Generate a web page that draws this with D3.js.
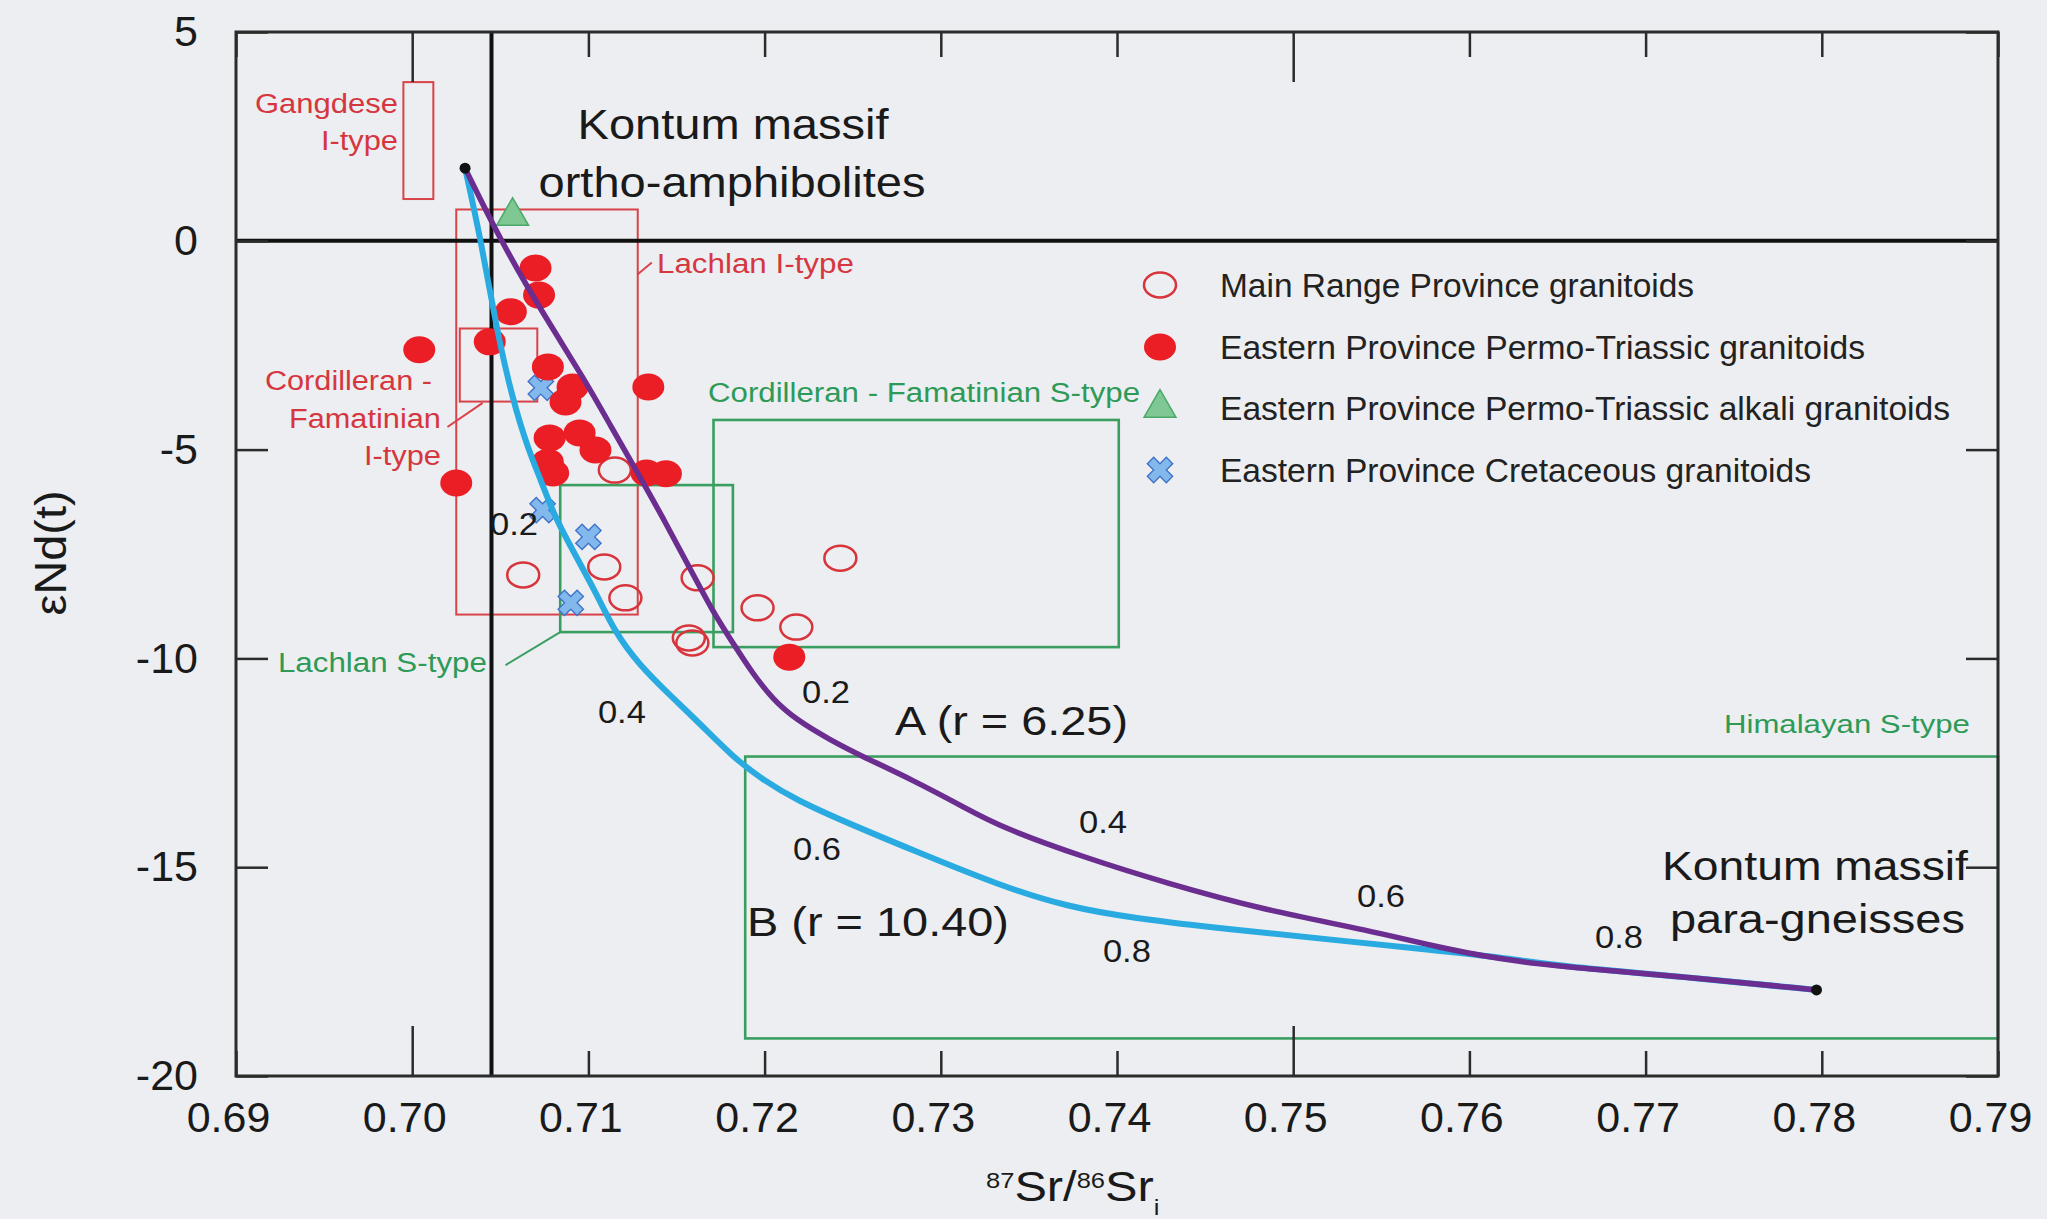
<!DOCTYPE html>
<html>
<head>
<meta charset="utf-8">
<script src="https://cdn.jsdelivr.net/npm/d3@7"></script>
<style>
  html, body { margin: 0; padding: 0; background: #eceef1; }
  svg { display: block; font-family: "Liberation Sans", Arial, Helvetica, sans-serif; }
</style>
</head>
<body>
<svg id="chart" width="2047" height="1219"></svg>
<script>
// ---------- axis ticks ----------
const xTicks = [0.69, 0.70, 0.71, 0.72, 0.73, 0.74, 0.75, 0.76, 0.77, 0.78, 0.79];
const xTickLabels = ["0.69", "0.70", "0.71", "0.72", "0.73", "0.74", "0.75", "0.76", "0.77", "0.78", "0.79"];
const xMajor = [0.70, 0.75];
const yTicks = [5, 0, -5, -10, -15, -20];
const yTickLabels = ["5", "0", "-5", "-10", "-15", "-20"];

// ---------- samples: [87Sr/86Sr(i), eNd(t)] ----------
const mainRangeGranitoids = [
  [0.7063, -8.00], [0.7109, -7.81], [0.7121, -8.55], [0.7115, -5.49], [0.7162, -8.07],
  [0.7157, -9.51], [0.7159, -9.63], [0.7196, -8.79], [0.7218, -9.25], [0.7243, -7.60]
];
const easternPermoTriassic = [
  [0.7070, -0.65], [0.7072, -1.30], [0.7056, -1.70], [0.7044, -2.42], [0.7004, -2.61],
  [0.7077, -3.02], [0.7091, -3.50], [0.7087, -3.86], [0.7134, -3.50], [0.7025, -5.80],
  [0.7078, -4.72], [0.7095, -4.60], [0.7104, -5.01], [0.7077, -5.30], [0.7080, -5.56],
  [0.7133, -5.56], [0.7144, -5.58], [0.7214, -9.97]
];
const easternAlkali = [[0.7057, 0.59]];
const easternCretaceous = [[0.7073, -3.52], [0.7074, -6.45], [0.7100, -7.09], [0.7090, -8.67]];

// ---------- reference fields: [x0, x1, y0, y1] ----------
const fieldNames = ["Gangdese I-type", "Lachlan I-type", "Cordilleran - Famatinian I-type",
                    "Lachlan S-type", "Cordilleran - Famatinian S-type", "Himalayan S-type"];
const fieldBounds = [
  [0.6995, 0.7012, 1.0, 3.8],
  [0.7025, 0.7128, -8.95, 0.75],
  [0.7027, 0.7071, -3.85, -2.10],
  [0.7084, 0.7182, -9.37, -5.85],
  [0.7171, 0.7401, -9.73, -4.29],
  [0.7189, 0.7900, -19.10, -12.35]
];
const fieldKind = ["I", "I", "I", "S", "S", "S"];

// ---------- mixing curves between the two end-members ----------
const endMembers = [[0.7030, 1.74], [0.7797, -17.94]];
const curveA = [
  [0.7030, 1.74], [0.7050, 0.02], [0.7074, -1.73], [0.7098, -3.33], [0.7113, -4.46],
  [0.7128, -5.56], [0.7142, -6.61], [0.7155, -7.64], [0.7171, -8.91], [0.7182, -9.63],
  [0.7193, -10.35], [0.7205, -11.00], [0.7218, -11.47], [0.7237, -11.95], [0.7256, -12.36],
  [0.7284, -12.91], [0.7313, -13.56], [0.7334, -14.04], [0.7381, -14.76], [0.7428, -15.38],
  [0.7484, -16.03], [0.7542, -16.50], [0.7588, -16.98], [0.7627, -17.27], [0.7674, -17.46],
  [0.7723, -17.63], [0.7797, -17.94]
];
const curveB = [
  [0.7030, 1.74], [0.7039, 0.02], [0.7048, -2.14], [0.7057, -3.81], [0.7066, -5.01],
  [0.7073, -5.73], [0.7080, -6.52], [0.7090, -7.33], [0.7105, -8.48], [0.7115, -9.37],
  [0.7129, -10.16], [0.7145, -10.83], [0.7163, -11.55], [0.7182, -12.36], [0.7199, -12.91],
  [0.7218, -13.39], [0.7247, -13.94], [0.7284, -14.59], [0.7334, -15.45], [0.7372, -15.95],
  [0.7409, -16.22], [0.7466, -16.50], [0.7523, -16.74], [0.7579, -16.98], [0.7616, -17.15],
  [0.7651, -17.37], [0.7723, -17.63], [0.7797, -17.94]
];

const legendLabels = [
  "Main Range Province granitoids",
  "Eastern Province Permo-Triassic granitoids",
  "Eastern Province Permo-Triassic alkali granitoids",
  "Eastern Province Cretaceous granitoids"
];

// ---------- colours ----------
const RED = "#eb1d25", RED_LINE = "#d8434a", RED_TEXT = "#d6373f";
const GREEN_LINE = "#3a9e60", GREEN_TEXT = "#2e9a58";
const PURPLE = "#6b2d8f", BLUE = "#29aae1", INK = "#1a1a1a", AXIS = "#2b2b2b";

const svg = d3.select("#chart");
svg.append("rect").attr("width", 2047).attr("height", 1219).attr("fill", "#eceef1");

const x = d3.scaleLinear().domain([0.69, 0.79]).range([236, 1998]);
const y = d3.scaleLinear().domain([5, -20]).range([32, 1076]);

// ---------- reference fields ----------
const fields = svg.append("g");
fieldBounds.forEach((b, i) => {
  fields.append("rect")
    .attr("x", x(b[0])).attr("y", y(b[3]))
    .attr("width", x(b[1]) - x(b[0])).attr("height", y(b[2]) - y(b[3]))
    .attr("fill", "none")
    .attr("stroke", fieldKind[i] === "I" ? RED_LINE : GREEN_LINE)
    .attr("stroke-width", fieldKind[i] === "I" ? 2 : 2.6);
});

// leader lines from labels to fields
const leaders = [
  { p: [[0.7128, -0.80], [0.7136, -0.52]], c: RED_LINE },
  { p: [[0.7020, -4.46], [0.7040, -3.88]], c: RED_LINE },
  { p: [[0.7053, -10.16], [0.7084, -9.37]], c: GREEN_LINE }
];
leaders.forEach(l => {
  fields.append("line")
    .attr("x1", x(l.p[0][0])).attr("y1", y(l.p[0][1]))
    .attr("x2", x(l.p[1][0])).attr("y2", y(l.p[1][1]))
    .attr("stroke", l.c).attr("stroke-width", 2);
});

// ---------- bulk-earth reference lines ----------
svg.append("line").attr("x1", x(0.7045)).attr("x2", x(0.7045)).attr("y1", y(5)).attr("y2", y(-20))
  .attr("stroke", "#111").attr("stroke-width", 4);
svg.append("line").attr("x1", x(0.69)).attr("x2", x(0.79)).attr("y1", y(0)).attr("y2", y(0))
  .attr("stroke", "#111").attr("stroke-width", 4);

// ---------- axes (inward ticks) ----------
const isMajor = d => xMajor.some(m => Math.abs(m - d) < 1e-9);

function styleAxis(g) {
  g.attr("font-family", null).attr("font-size", null);
  g.select(".domain").remove();
  g.selectAll(".tick line").attr("stroke", AXIS).attr("stroke-width", 2.5);
  g.selectAll(".tick text").attr("font-size", 43).attr("fill", INK);
}

const gBottom = svg.append("g").attr("transform", `translate(0,${y(-20)})`)
  .call(d3.axisBottom(x).tickValues(xTicks).tickSizeInner(-25).tickSizeOuter(0).tickPadding(25)
    .tickFormat((d, i) => xTickLabels[i]));
styleAxis(gBottom);
gBottom.selectAll(".tick line").attr("y2", d => isMajor(d) ? -50 : -25);
gBottom.selectAll(".tick text").attr("dx", -8);

const gTop = svg.append("g").attr("transform", `translate(0,${y(5)})`)
  .call(d3.axisTop(x).tickValues(xTicks).tickSizeInner(-25).tickSizeOuter(0).tickFormat(""));
styleAxis(gTop);
gTop.selectAll(".tick line").attr("y2", d => isMajor(d) ? 50 : 25);

const gLeft = svg.append("g").attr("transform", `translate(${x(0.69)},0)`)
  .call(d3.axisLeft(y).tickValues(yTicks).tickSizeInner(-32).tickSizeOuter(0).tickPadding(38)
    .tickFormat((d, i) => yTickLabels[i]));
styleAxis(gLeft);

const gRight = svg.append("g").attr("transform", `translate(${x(0.79)},0)`)
  .call(d3.axisRight(y).tickValues(yTicks).tickSizeInner(-32).tickSizeOuter(0).tickFormat(""));
styleAxis(gRight);

svg.append("rect")
  .attr("x", x(0.69)).attr("y", y(5))
  .attr("width", x(0.79) - x(0.69)).attr("height", y(-20) - y(5))
  .attr("fill", "none").attr("stroke", AXIS).attr("stroke-width", 3);

// axis titles
const xt = svg.append("text")
  .attr("transform", "translate(986,1201) scale(1.16,1)")
  .attr("fill", INK).attr("font-size", 42);
xt.append("tspan").attr("font-size", 22).attr("dy", -13).text("87");
xt.append("tspan").attr("dy", 13).text("Sr/");
xt.append("tspan").attr("font-size", 22).attr("dy", -13).text("86");
xt.append("tspan").attr("dy", 13).text("Sr");
xt.append("tspan").attr("font-size", 22).attr("dy", 14).text("i");

svg.append("text")
  .attr("transform", "translate(66,553) rotate(-90)")
  .attr("text-anchor", "middle").attr("font-size", 44).attr("fill", INK)
  .attr("textLength", 125).attr("lengthAdjust", "spacingAndGlyphs")
  .text("εNd(t)");

// ---------- samples ----------
const marks = svg.append("g");

marks.selectAll(".open").data(mainRangeGranitoids).join("ellipse")
  .attr("cx", d => x(d[0])).attr("cy", d => y(d[1]))
  .attr("rx", 16).attr("ry", 12.5)
  .attr("fill", "none").attr("stroke", "#d8343c").attr("stroke-width", 2.5);

const crossPath = d3.symbol(d3.symbolCross, 400)();
marks.selectAll(".cret").data(easternCretaceous).join("path")
  .attr("d", crossPath)
  .attr("transform", d => `translate(${x(d[0])},${y(d[1])}) rotate(45)`)
  .attr("fill", "#82b8ec").attr("stroke", "#3f73c9").attr("stroke-width", 1.4);

marks.selectAll(".filled").data(easternPermoTriassic).join("ellipse")
  .attr("cx", d => x(d[0])).attr("cy", d => y(d[1]))
  .attr("rx", 16).attr("ry", 13.5)
  .attr("fill", RED);

const triPath = d3.symbol(d3.symbolTriangle, 440)();
marks.selectAll(".alk").data(easternAlkali).join("path")
  .attr("d", triPath)
  .attr("transform", d => `translate(${x(d[0])},${y(d[1])})`)
  .attr("fill", "#7fc793").attr("stroke", "#4aa968").attr("stroke-width", 1.5);

// ---------- mixing curves ----------
const line = d3.line().x(d => x(d[0])).y(d => y(d[1])).curve(d3.curveBasis);
svg.append("path").datum(curveB).attr("d", line)
  .attr("fill", "none").attr("stroke", BLUE).attr("stroke-width", 6).attr("stroke-linecap", "round");
svg.append("path").datum(curveA).attr("d", line)
  .attr("fill", "none").attr("stroke", PURPLE).attr("stroke-width", 5.5).attr("stroke-linecap", "round");
svg.selectAll(".end").data(endMembers).join("circle")
  .attr("cx", d => x(d[0])).attr("cy", d => y(d[1])).attr("r", 5.5).attr("fill", "#111");

// ---------- annotations ----------
const annotations = [
  { t: "Kontum massif", x: 0.71821, y: 2.44, a: "middle", s: 42, w: 311, c: INK },
  { t: "ortho-amphibolites", x: 0.71815, y: 1.05, a: "middle", s: 42, w: 387, c: INK },
  { t: "Kontum massif", x: 0.77093, y: -15.31, a: "start", s: 41, w: 306, c: INK },
  { t: "para-gneisses", x: 0.77138, y: -16.58, a: "start", s: 41, w: 295, c: INK },
  { t: "A (r = 6.25)", x: 0.72740, y: -11.83, a: "start", s: 40, w: 233, c: INK },
  { t: "B (r = 10.40)", x: 0.71900, y: -16.65, a: "start", s: 41, w: 262, c: INK },
  { t: "0.2", x: 0.70442, y: -7.05, a: "start", s: 32, w: 48, c: INK },
  { t: "0.4", x: 0.71054, y: -11.55, a: "start", s: 32, w: 48, c: INK },
  { t: "0.6", x: 0.72161, y: -14.83, a: "start", s: 32, w: 48, c: INK },
  { t: "0.8", x: 0.73920, y: -17.27, a: "start", s: 32, w: 48, c: INK },
  { t: "0.2", x: 0.72212, y: -11.07, a: "start", s: 32, w: 48, c: INK },
  { t: "0.4", x: 0.73784, y: -14.18, a: "start", s: 32, w: 48, c: INK },
  { t: "0.6", x: 0.75362, y: -15.95, a: "start", s: 32, w: 48, c: INK },
  { t: "0.8", x: 0.76713, y: -16.93, a: "start", s: 32, w: 48, c: INK },
  { t: "Gangdese", x: 0.69919, y: 3.06, a: "end", s: 27, w: 143, c: RED_TEXT },
  { t: "I-type", x: 0.69919, y: 2.17, a: "end", s: 27, w: 77, c: RED_TEXT },
  { t: "Lachlan I-type", x: 0.71389, y: -0.77, a: "start", s: 27, w: 197, c: RED_TEXT },
  { t: "Cordilleran -", x: 0.70112, y: -3.57, a: "end", s: 27, w: 167, c: RED_TEXT },
  { t: "Famatinian", x: 0.70163, y: -4.48, a: "end", s: 27, w: 152, c: RED_TEXT },
  { t: "I-type", x: 0.70163, y: -5.37, a: "end", s: 27, w: 77, c: RED_TEXT },
  { t: "Cordilleran - Famatinian S-type", x: 0.71679, y: -3.86, a: "start", s: 27, w: 432, c: GREEN_TEXT },
  { t: "Lachlan S-type", x: 0.70424, y: -10.33, a: "end", s: 27, w: 209, c: GREEN_TEXT },
  { t: "Himalayan S-type", x: 0.78841, y: -11.79, a: "end", s: 26, w: 246, c: GREEN_TEXT }
];
svg.append("g").selectAll("text").data(annotations).join("text")
  .attr("x", d => x(d.x)).attr("y", d => y(d.y))
  .attr("text-anchor", d => d.a).attr("font-size", d => d.s).attr("fill", d => d.c)
  .attr("textLength", d => d.w).attr("lengthAdjust", "spacingAndGlyphs")
  .text(d => d.t);

// ---------- legend ----------
const legendRowsY = [285, 347, 408, 470];
const legendWidths = [474, 645, 730, 591];
const legend = svg.append("g");
legendRowsY.forEach((ry, i) => {
  const mx = 1160;
  if (i === 0) {
    legend.append("ellipse").attr("cx", mx).attr("cy", ry).attr("rx", 16).attr("ry", 12.5)
      .attr("fill", "none").attr("stroke", "#d8343c").attr("stroke-width", 2.5);
  } else if (i === 1) {
    legend.append("ellipse").attr("cx", mx).attr("cy", ry).attr("rx", 16).attr("ry", 13.5).attr("fill", RED);
  } else if (i === 2) {
    legend.append("path").attr("d", triPath).attr("transform", `translate(${mx},${ry})`)
      .attr("fill", "#7fc793").attr("stroke", "#4aa968").attr("stroke-width", 1.5);
  } else {
    legend.append("path").attr("d", crossPath).attr("transform", `translate(${mx},${ry}) rotate(45)`)
      .attr("fill", "#82b8ec").attr("stroke", "#3f73c9").attr("stroke-width", 1.4);
  }
  legend.append("text").attr("x", 1220).attr("y", ry + 12)
    .attr("font-size", 33).attr("fill", "#222")
    .attr("textLength", legendWidths[i]).attr("lengthAdjust", "spacingAndGlyphs")
    .text(legendLabels[i]);
});
</script>
</body>
</html>
